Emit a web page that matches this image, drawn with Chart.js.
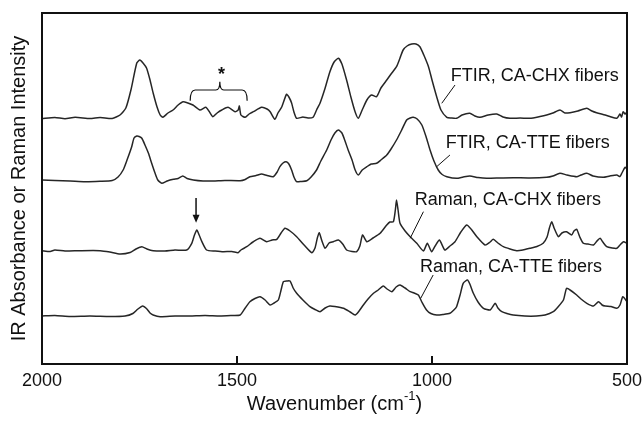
<!DOCTYPE html>
<html>
<head>
<meta charset="utf-8">
<title>FTIR and Raman spectra</title>
<script src="https://cdn.jsdelivr.net/npm/chart.js@4.4.1/dist/chart.umd.min.js"></script>
<style>
  html, body { margin: 0; padding: 0; background: #fff; }
  #wrap { width: 644px; height: 421px; }
</style>
</head>
<body>
<div id="wrap"><canvas id="spectraChart" width="644" height="421"></canvas></div>
<script>
// Spectra (wavenumber in cm-1, intensity in arbitrary stacked units)
const ftirChxWn = [
  2000, 1967, 1941, 1915, 1877, 1851, 1820, 1800, 1785, 1772,
  1757, 1749, 1741, 1732, 1723, 1715, 1705, 1697, 1690, 1677,
  1664, 1651, 1638, 1626, 1613, 1595, 1580, 1572, 1562, 1551,
  1539, 1523, 1505, 1497, 1494, 1490, 1479, 1469, 1458, 1437,
  1423, 1415, 1403, 1395, 1385, 1373, 1367, 1360, 1354, 1347,
  1331, 1318, 1305, 1296, 1287, 1274, 1262, 1251, 1240, 1231,
  1219, 1208, 1197, 1189, 1179, 1167, 1155, 1142, 1131, 1116,
  1105, 1091, 1082, 1074, 1064, 1052, 1041, 1031, 1021, 1009,
  1000, 988, 977, 962, 951, 937, 923, 903, 890, 877,
  856, 834, 818, 800, 774, 749, 723, 706, 690, 672,
  659, 646, 626, 603, 590, 578, 556, 544, 526, 518,
  514, 510, 505, 500
];
const ftirChxI = [
  245.5, 246.5, 245.3, 246.7, 245.5, 246.5, 245.5, 249, 256, 274,
  301, 304, 301, 296, 284, 271, 257, 249, 246.7, 251,
  254, 259, 262.3, 261, 259, 254, 256.7, 253, 247.3, 251,
  254, 256.7, 252.3, 254, 258, 249, 246.7, 250, 252.3, 256.7,
  255, 252.3, 244.7, 251, 257.3, 269.7, 267, 261, 252, 245.7,
  247, 246, 246.7, 254, 261, 276, 292, 302, 305.7, 300,
  284, 267, 252, 245.7, 254, 264, 269, 267.3, 276, 284,
  290, 297.3, 306, 314, 318, 320, 320, 317.3, 309, 297.3,
  284, 267.3, 254, 246.7, 246, 245.7, 249, 250.7, 248, 246.7,
  249, 250, 247, 245.7, 246, 245.7, 247.5, 249, 251, 254,
  251, 251.3, 253, 255.7, 253, 251.3, 249, 247.5, 245.7, 250,
  247, 252.3, 250, 252
];

const ftirTteWn = [
  2000, 1967, 1928, 1890, 1851, 1820, 1805, 1792, 1782, 1770,
  1764, 1757, 1751, 1744, 1736, 1727, 1719, 1710, 1703, 1693,
  1679, 1663, 1651, 1639, 1628, 1612, 1587, 1561, 1531, 1492,
  1479, 1467, 1451, 1437, 1423, 1407, 1397, 1390, 1382, 1374,
  1367, 1360, 1354, 1347, 1336, 1321, 1310, 1296, 1285, 1270,
  1259, 1249, 1240, 1231, 1223, 1215, 1205, 1197, 1189, 1179,
  1167, 1156, 1142, 1131, 1116, 1105, 1091, 1079, 1065, 1056,
  1048, 1038, 1026, 1015, 1005, 995, 984, 974, 962, 937,
  920, 903, 882, 860, 826, 792, 749, 706, 690, 672,
  654, 629, 618, 603, 587, 561, 544, 526, 518, 513,
  505, 500
];
const ftirTteI = [
  184, 183.5, 183, 182.3, 182.7, 183.5, 187, 194, 204, 217.3,
  226, 228, 227.5, 225.7, 219, 210.7, 201, 190.7, 184, 180.7,
  183, 184.7, 185.5, 188, 185.5, 184, 183, 183, 183.5, 183.3,
  184.5, 187.3, 188.5, 190, 188.5, 187.3, 192, 197.3, 201, 202.3,
  200, 194, 187, 182.3, 182.5, 183.3, 187, 194, 203, 214,
  224, 231, 234, 231, 223, 214, 204, 194, 189, 194,
  197.3, 200, 200.7, 204, 209, 215, 224, 233, 244, 246,
  246.7, 245, 239, 227, 214, 203, 194, 189.5, 187.3, 185.7,
  187, 188, 186.5, 185.7, 186, 186.3, 186, 186.7, 188, 190.7,
  189, 187.3, 189, 190.7, 188, 186.7, 188, 189, 187.5, 191,
  196.7, 195
];

const ramanChxWn = [
  2000, 1979, 1967, 1941, 1903, 1851, 1826, 1800, 1774, 1759,
  1744, 1731, 1715, 1685, 1659, 1629, 1616, 1609, 1603, 1597,
  1590, 1578, 1556, 1535, 1513, 1497, 1490, 1475, 1459, 1441,
  1424, 1410, 1398, 1387, 1377, 1364, 1347, 1328, 1308, 1300,
  1294, 1289, 1283, 1274, 1264, 1253, 1240, 1229, 1219, 1205,
  1193, 1185, 1178, 1167, 1151, 1133, 1116, 1108, 1099, 1094,
  1091, 1087, 1082, 1069, 1056, 1039, 1022, 1012, 1001, 992,
  981, 967, 954, 941, 926, 911, 900, 885, 864, 851,
  843, 831, 817, 800, 783, 767, 749, 731, 715, 705,
  699, 693, 687, 676, 667, 655, 642, 636, 629, 621,
  612, 600, 586, 577, 569, 562, 552, 538, 526, 518,
  509, 500
];
const ramanChxI = [
  113.3, 112.5, 114, 113, 113.3, 113.3, 112, 110, 111.5, 115,
  117.3, 115, 113.3, 113, 114, 114, 120.7, 129, 134, 129,
  122.3, 114, 113, 112.3, 112.5, 111.3, 114, 117.3, 122, 125.7,
  122.3, 124, 124.7, 131, 135.7, 133, 127.3, 119, 111.3, 116,
  126, 131.3, 124, 115.7, 121, 122.3, 124, 120, 114, 112.5,
  112.3, 118, 129, 122.3, 126, 130.7, 139, 142, 142.3, 154,
  164, 154, 140.7, 133, 127.3, 120.7, 113, 120.7, 112.3, 118,
  124, 114, 118, 122.3, 132, 139, 135, 127.3, 119, 122,
  124.7, 121, 117.3, 115, 113.3, 114, 115.7, 117.5, 120.7, 127,
  136, 142.3, 136, 127.3, 131, 132.3, 129, 133, 134.7, 127,
  120.7, 120, 119, 123, 125.7, 122, 117.3, 116, 115.7, 119,
  122.3, 120.7
];

const ramanTteWn = [
  2000, 1967, 1928, 1877, 1826, 1787, 1767, 1754, 1742, 1731,
  1723, 1715, 1697, 1659, 1621, 1582, 1544, 1513, 1492, 1479,
  1467, 1454, 1441, 1428, 1415, 1405, 1394, 1387, 1381, 1372,
  1364, 1356, 1347, 1331, 1313, 1300, 1287, 1274, 1262, 1249,
  1227, 1210, 1197, 1187, 1176, 1164, 1150, 1138, 1125, 1115,
  1103, 1092, 1082, 1069, 1056, 1046, 1035, 1026, 1014, 1003,
  988, 972, 954, 944, 937, 928, 920, 909, 903, 894,
  882, 868, 851, 838, 831, 821, 808, 792, 762, 732,
  710, 689, 677, 663, 655, 646, 629, 618, 603, 586,
  573, 564, 556, 541, 526, 518, 511, 505, 500
];
const ramanTteI = [
  48, 48.5, 47.5, 48, 47.5, 48, 50.5, 55, 58, 55,
  51, 49, 47.3, 48, 48, 48.5, 48, 48.5, 49, 56,
  62.3, 65.5, 67.3, 64, 59, 61, 64, 74, 82.3, 83,
  83, 76, 70.7, 64, 57.3, 54.5, 52.3, 56, 58, 57.5,
  55.7, 52, 49, 53, 59, 65, 70.7, 74, 78, 75,
  72.3, 77, 79, 76, 72.3, 71, 69, 62, 54, 50.5,
  49, 49.5, 50.7, 54, 57.3, 69, 80.7, 84, 80, 70.7,
  62, 55.7, 54, 60.7, 56, 52.3, 50.5, 49, 48, 48,
  49, 52.3, 57, 64, 75.7, 74, 69, 65, 60.7, 58,
  62.3, 59, 58, 57.5, 55.7, 59, 67.3, 65, 62.3
];

const seriesNames = ['FTIR, CA-CHX fibers', 'FTIR, CA-TTE fibers', 'Raman, CA-CHX fibers', 'Raman, CA-TTE fibers'];
const xTicks = [2000, 1500, 1000, 500];

// Annotation anchors in data units: label left/middle, leader line start -> end
const labelAnchors = [
  { wn: 952, v: 288, line: [941, 279, 975, 260.7] },
  { wn: 965, v: 220.5, line: [954, 209, 988, 197.3] },
  { wn: 1044, v: 164, line: [1022, 152.3, 1056, 125.7] },
  { wn: 1031, v: 97.3, line: [997, 89, 1029, 65.7] }
];
const braceSpan = { left: 1620, mid: 1544, right: 1474, vEnd: 263.3, vBar: 274, vTip: 282.3, vStar: 294 };
const arrowMark = { wn: 1605, vFrom: 166, vTo: 141.3 };

const FONT = '"Liberation Sans", Arial, Helvetica, sans-serif';
const INK = '#111';
const LINE = '#262626';

function toPoints(wn, vals) {
  return wn.map((w, i) => ({ x: w, y: vals[i] }));
}

const spectra = [
  [ftirChxWn, ftirChxI],
  [ftirTteWn, ftirTteI],
  [ramanChxWn, ramanChxI],
  [ramanTteWn, ramanTteI]
];

// Frame, inward ticks, axis title with superscript, and the text annotations
const decorations = {
  id: 'decorations',
  afterDraw(chart) {
    const ctx = chart.ctx;
    const area = chart.chartArea;
    const xs = chart.scales.x;
    const ys = chart.scales.y;
    const P = (wn, v) => [xs.getPixelForValue(wn), ys.getPixelForValue(v)];

    ctx.save();
    ctx.strokeStyle = INK;
    ctx.fillStyle = INK;

    // plot frame
    ctx.lineWidth = 2;
    ctx.strokeRect(area.left, area.top, area.right - area.left, area.bottom - area.top);

    // inward tick marks on the bottom axis
    xTicks.forEach(t => {
      const x = xs.getPixelForValue(t);
      ctx.beginPath();
      ctx.moveTo(x, area.bottom);
      ctx.lineTo(x, area.bottom - 8);
      ctx.stroke();
    });

    // x-axis title with superscript
    ctx.font = '20px ' + FONT;
    ctx.textBaseline = 'alphabetic';
    ctx.textAlign = 'left';
    const partA = 'Wavenumber (cm';
    const partSup = '-1';
    const partB = ')';
    const wA = ctx.measureText(partA).width;
    const wB = ctx.measureText(partB).width;
    ctx.font = '13px ' + FONT;
    const wSup = ctx.measureText(partSup).width;
    const total = wA + wSup + wB;
    let tx = (area.left + area.right) / 2 - total / 2;
    const baseY = area.bottom + 46;
    ctx.font = '20px ' + FONT;
    ctx.fillText(partA, tx, baseY);
    ctx.font = '13px ' + FONT;
    ctx.fillText(partSup, tx + wA, baseY - 10);
    ctx.font = '20px ' + FONT;
    ctx.fillText(partB, tx + wA + wSup, baseY);

    // series labels with leader lines
    ctx.font = '18px ' + FONT;
    ctx.lineWidth = 1;
    ctx.textBaseline = 'middle';
    labelAnchors.forEach((a, i) => {
      const [lx, ly] = P(a.wn, a.v);
      ctx.fillText(seriesNames[i], lx, ly);
      const [x1, y1] = P(a.line[0], a.line[1]);
      const [x2, y2] = P(a.line[2], a.line[3]);
      ctx.beginPath();
      ctx.moveTo(x1, y1);
      ctx.lineTo(x2, y2);
      ctx.stroke();
    });

    // curly brace with asterisk
    const [bl, bEnd] = P(braceSpan.left, braceSpan.vEnd);
    const [bm, bBar] = P(braceSpan.mid, braceSpan.vBar);
    const [br] = P(braceSpan.right, braceSpan.vEnd);
    const [, bTip] = P(braceSpan.mid, braceSpan.vTip);
    ctx.lineWidth = 1.2;
    ctx.beginPath();
    ctx.moveTo(bl, bEnd);
    ctx.quadraticCurveTo(bl, bBar, bl + 5, bBar);
    ctx.lineTo(bm - 4, bBar);
    ctx.quadraticCurveTo(bm, bBar, bm, bTip);
    ctx.quadraticCurveTo(bm, bBar, bm + 4, bBar);
    ctx.lineTo(br - 5, bBar);
    ctx.quadraticCurveTo(br, bBar, br, bEnd);
    ctx.stroke();
    const [sx, sy] = P(braceSpan.mid - 4, braceSpan.vStar);
    ctx.font = 'bold 18px ' + FONT;
    ctx.textAlign = 'center';
    ctx.textBaseline = 'alphabetic';
    ctx.fillText('*', sx, sy + 10);

    // arrow pointing at the Raman band
    const [ax, ay1] = P(arrowMark.wn, arrowMark.vFrom);
    const [, ay2] = P(arrowMark.wn, arrowMark.vTo);
    ctx.lineWidth = 1.5;
    ctx.beginPath();
    ctx.moveTo(ax, ay1);
    ctx.lineTo(ax, ay2 - 6);
    ctx.stroke();
    ctx.beginPath();
    ctx.moveTo(ax - 3.5, ay2 - 8);
    ctx.lineTo(ax + 3.5, ay2 - 8);
    ctx.lineTo(ax, ay2);
    ctx.closePath();
    ctx.fill();

    ctx.restore();
  }
};

const ctx = document.getElementById('spectraChart');
new Chart(ctx, {
  type: 'scatter',
  data: {
    datasets: spectra.map((s, i) => ({
      label: seriesNames[i],
      data: toPoints(s[0], s[1]),
      showLine: true,
      borderColor: LINE,
      borderWidth: 1.5,
      pointRadius: 0,
      tension: 0.2,
      fill: false
    }))
  },
  options: {
    responsive: false,
    animation: false,
    devicePixelRatio: 1,
    layout: { padding: { top: 13, right: 17, left: 0, bottom: 0 } },
    plugins: {
      legend: { display: false },
      tooltip: { enabled: false }
    },
    scales: {
      x: {
        type: 'linear',
        reverse: true,
        min: 500,
        max: 2000,
        afterFit: scale => {
          scale.height = 57;
          scale.paddingLeft = 0;
          scale.paddingRight = 0;
        },
        afterBuildTicks: scale => { scale.ticks = xTicks.map(v => ({ value: v })); },
        grid: { display: false, drawTicks: false },
        border: { display: false },
        ticks: {
          color: INK,
          font: { family: FONT, size: 18 },
          padding: 6,
          maxRotation: 0,
          autoSkip: false,
          callback: v => String(v)
        }
      },
      y: {
        min: 0,
        max: 351,
        afterFit: scale => { scale.width = 42; },
        grid: { display: false, drawTicks: false },
        border: { display: false },
        ticks: { display: false },
        title: {
          display: true,
          text: 'IR Absorbance or Raman Intensity',
          color: INK,
          font: { family: FONT, size: 20 },
          padding: { top: 7, bottom: 0 }
        }
      }
    }
  },
  plugins: [decorations]
});
</script>
</body>
</html>
